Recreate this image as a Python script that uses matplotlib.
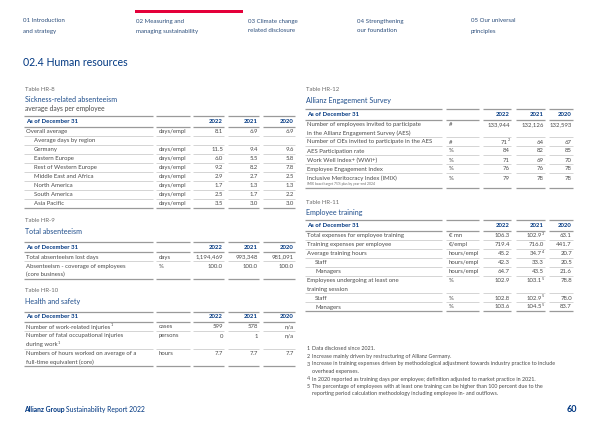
import matplotlib
matplotlib.use("Agg")
import matplotlib.pyplot as plt

plt.rcParams['font.family'] = ['Lato', 'DejaVu Sans']

# ---------------- datos ----------------
nav_items = ['01 Introduction\nand strategy', '02 Measuring and\nmanaging sustainability',
             '03 Climate change\nrelated disclosure', '04 Strengthening\nour foundation',
             '05 Our universal\nprinciples']
years = ['2022', '2021', '2020']

# Tabla HR-8
hr8_labels = ['Overall average', 'Average days by region', 'Germany', 'Eastern Europe',
              'Rest of Western Europe', 'Middle East and Africa', 'North America',
              'South America', 'Asia Pacific']
hr8_indent = [0, 1, 1, 1, 1, 1, 1, 1, 1]
hr8_units = ['days/empl', '', 'days/empl', 'days/empl', 'days/empl', 'days/empl',
             'days/empl', 'days/empl', 'days/empl']
hr8_2022 = ['8.1', '', '11.5', '6.0', '9.2', '2.9', '1.7', '2.5', '3.5']
hr8_2021 = ['6.9', '', '9.4', '5.5', '8.2', '2.7', '1.3', '1.7', '3.0']
hr8_2020 = ['6.9', '', '9.6', '5.8', '7.8', '2.5', '1.3', '2.2', '3.0']

# Tabla HR-9
hr9_labels = ['Total absenteeism lost days',
              'Absenteeism - coverage of employees\n(core business)']
hr9_units = ['days', '%']
hr9_2022 = ['1,194,469', '100.0']
hr9_2021 = ['993,348', '100.0']
hr9_2020 = ['981,091', '100.0']

# Tabla HR-10 (el numero tras '^' es la nota)
hr10_labels = ['Number of work-related injuries^1',
               'Number of fatal occupational injuries\nduring work^1',
               'Numbers of hours worked on average of a\nfull-time equivalent (core)']
hr10_units = ['cases', 'persons', 'hours']
hr10_2022 = ['599', '0', '7.7']
hr10_2021 = ['578', '1', '7.7']
hr10_2020 = ['n/a', 'n/a', '7.7']

# Tabla HR-12
hr12_labels = ['Number of employees invited to participate\nin the Allianz Engagement Survey (AES)',
               'Number of OEs invited to participate in the AES', 'AES Participation rate',
               'Work Well Index+ (WWi+)', 'Employee Engagement Index',
               'Inclusive Meritocracy Index (IMIX)']
hr12_units = ['#', '#', '%', '%', '%', '%']
hr12_2022 = ['133,944', '71^2', '84', '71', '76', '79']
hr12_2021 = ['132,126', '64', '82', '69', '76', '78']
hr12_2020 = ['132,593', '67', '85', '70', '78', '78']
hr12_note = 'IMIX board target 75% plus by year-end 2024'

# Tabla HR-11
hr11_labels = ['Total expenses for employee training', 'Training expenses per employee',
               'Average training hours', 'Staff', 'Managers',
               'Employees undergoing at least one\ntraining session', 'Staff', 'Managers']
hr11_indent = [0, 0, 0, 1, 1, 0, 1, 1]
hr11_units = ['€ mn', '€/empl', 'hours/empl', 'hours/empl', 'hours/empl', '%', '%', '%']
hr11_2022 = ['106.3', '719.4', '45.2', '42.3', '64.7', '102.9', '102.8', '103.6']
hr11_2021 = ['102.9^3', '716.0', '34.7^4', '33.3', '43.5', '103.1^5', '102.9^5', '104.5^5']
hr11_2020 = ['63.1', '441.7', '20.7', '20.5', '21.6', '78.8', '78.0', '83.7']

footnotes = ['Data disclosed since 2021.',
             'Increase mainly driven by restructuring of Allianz Germany.',
             'Increase in training expenses driven by methodological adjustment towards industry practice to include\noverhead expenses.',
             'In 2020 reported as training days per employee; definition adjusted to market practice in 2021.',
             'The percentage of employees with at least one training can be higher than 100 percent due to the\nreporting period calculation methodology including employee in- and outflows.']

# ---------------- estilo ----------------
azul = '#003781'
azul_titulo = '#1f4e8c'
gris = '#4a4a4a'
gris_claro = '#6b6b6b'
fs = 4.3

fig = plt.figure(figsize=(6, 4.24), dpi=100)
ax = fig.add_axes([0, 0, 1, 1])
ax.set_xlim(0, 600)
ax.set_ylim(424, 0)
ax.axis('off')

# columnas (inicio, fin) de cada segmento
cols_izq = [(24, 153), (156, 190), (193, 224), (228, 259), (263, 295)]
cols_der = [(305, 442), (446, 479), (483, 511), (516, 545), (549, 573)]


def linea(segs, y, fuerte):
    for a, b in segs:
        if fuerte:
            ax.plot([a, b], [y, y], color='#9a9a9a', lw=0.9, solid_capstyle='butt')
        else:
            ax.plot([a, b], [y, y], color='#c4c4c4', lw=0.5, solid_capstyle='butt')


def texto(x, y, s, ha='left'):
    # texto con superindice opcional de nota ('^n')
    if '^' in s:
        base, sup = s.split('^')
    else:
        base, sup = s, ''
    if ha == 'right':
        if sup:
            ax.text(x, y - 1.8, sup, fontsize=2.8, color=gris, va='center', ha='right')
            x -= 2.2
        ax.text(x, y, base, fontsize=fs, color=gris, va='center', ha='right')
    else:
        t = ax.text(x, y, base, fontsize=fs, color=gris, va='center')
        if sup:
            fig.canvas.draw()
            bb = t.get_window_extent()
            x2 = ax.transData.inverted().transform((bb.x1, bb.y0))[0]
            ax.text(x2 + 0.3, y - 1.8, sup, fontsize=2.8, color=gris, va='center')


def encabezado(x, y, tabla, titulo, subtitulo=None):
    ax.text(x, y, tabla, fontsize=fs, color=gris_claro, va='center')
    ax.text(x, y + 10.5, titulo, fontsize=5.1, color=azul_titulo, va='center')
    if subtitulo:
        ax.text(x, y + 19, subtitulo, fontsize=4.8, color=gris, va='center')


def tabla(segs, y0, labels, units, v22, v21, v20, indent=None, nota=None):
    if indent is None:
        indent = [0] * len(labels)
    linea(segs, y0, True)
    ax.text(segs[0][0] + 2, y0 + 5.5, 'As of December 31', fontsize=fs,
            color=azul, fontweight='bold', va='center')
    for (a, b), yr in zip(segs[2:], years):
        ax.text(b - 1, y0 + 5.5, yr, fontsize=fs, color=azul, fontweight='bold',
                va='center', ha='right')
    y = y0 + 10.5
    linea(segs, y, True)
    for i, lab in enumerate(labels):
        partes = lab.split('\n')
        h = 9 if len(partes) == 1 else 17.5
        for j, p in enumerate(partes):
            texto(segs[0][0] + 2 + 8 * indent[i], y + 5 + 8.5 * j, p)
        texto(segs[1][0] + 3, y + 5, units[i])
        for (a, b), v in zip(segs[2:], [v22[i], v21[i], v20[i]]):
            texto(b - 1, y + 5, v, ha='right')
        if nota is not None and i == len(labels) - 1:
            ax.text(segs[0][0] + 2, y + 11.5, nota, fontsize=2.4, color=gris_claro,
                    va='center')
            h += 6
        y += h
        linea(segs, y, i == len(labels) - 1)
    return y


# ---------------- cabecera ----------------
nav_x = [23, 136, 248, 357, 471]
ax.fill_between([135, 243], 10, 13.3, color='#e4003a', lw=0)
for x, t in zip(nav_x, nav_items):
    l1, l2 = t.split('\n')
    ax.text(x, 21, l1, fontsize=4.4, color='#2d4f7c', va='center')
    ax.text(x, 31, l2, fontsize=4.4, color='#2d4f7c', va='center')
ax.text(23, 63, '02.4 Human resources', fontsize=7.6, color=azul, va='center')

# ---------------- tablas izquierda ----------------
encabezado(25, 89.5, 'Table HR-8', 'Sickness-related absenteeism', 'average days per employee')
tabla(cols_izq, 116, hr8_labels, hr8_units, hr8_2022, hr8_2021, hr8_2020, indent=hr8_indent)

encabezado(25, 220.5, 'Table HR-9', 'Total absenteeism')
tabla(cols_izq, 241.7, hr9_labels, hr9_units, hr9_2022, hr9_2021, hr9_2020)

encabezado(25, 291, 'Table HR-10', 'Health and safety')
tabla(cols_izq, 311.5, hr10_labels, hr10_units, hr10_2022, hr10_2021, hr10_2020)

# ---------------- tablas derecha ----------------
encabezado(306, 89.5, 'Table HR-12', 'Allianz Engagement Survey')
tabla(cols_der, 109, hr12_labels, hr12_units, hr12_2022, hr12_2021, hr12_2020, nota=hr12_note)

encabezado(306, 202.3, 'Table HR-11', 'Employee training')
tabla(cols_der, 220, hr11_labels, hr11_units, hr11_2022, hr11_2021, hr11_2020, indent=hr11_indent)

# notas al pie
y = 349
for k, nt in enumerate(footnotes):
    for j, p in enumerate(nt.split('\n')):
        if j == 0:
            ax.text(306.5, y, str(k + 1), fontsize=3.9, color=gris, va='center')
        ax.text(312, y, p, fontsize=3.9, color=gris, va='center')
        y += 7.5

# pie de pagina
ax.text(24, 409.5, 'Allianz Group', fontsize=4.9, color=azul, fontweight='bold', va='center')
ax.text(66.5, 409.5, 'Sustainability Report 2022', fontsize=4.9, color=azul, va='center')
ax.text(577, 409.5, '60', fontsize=6.5, color=azul, fontweight='bold', va='center', ha='right')

fig.savefig('out.png', dpi=100)
